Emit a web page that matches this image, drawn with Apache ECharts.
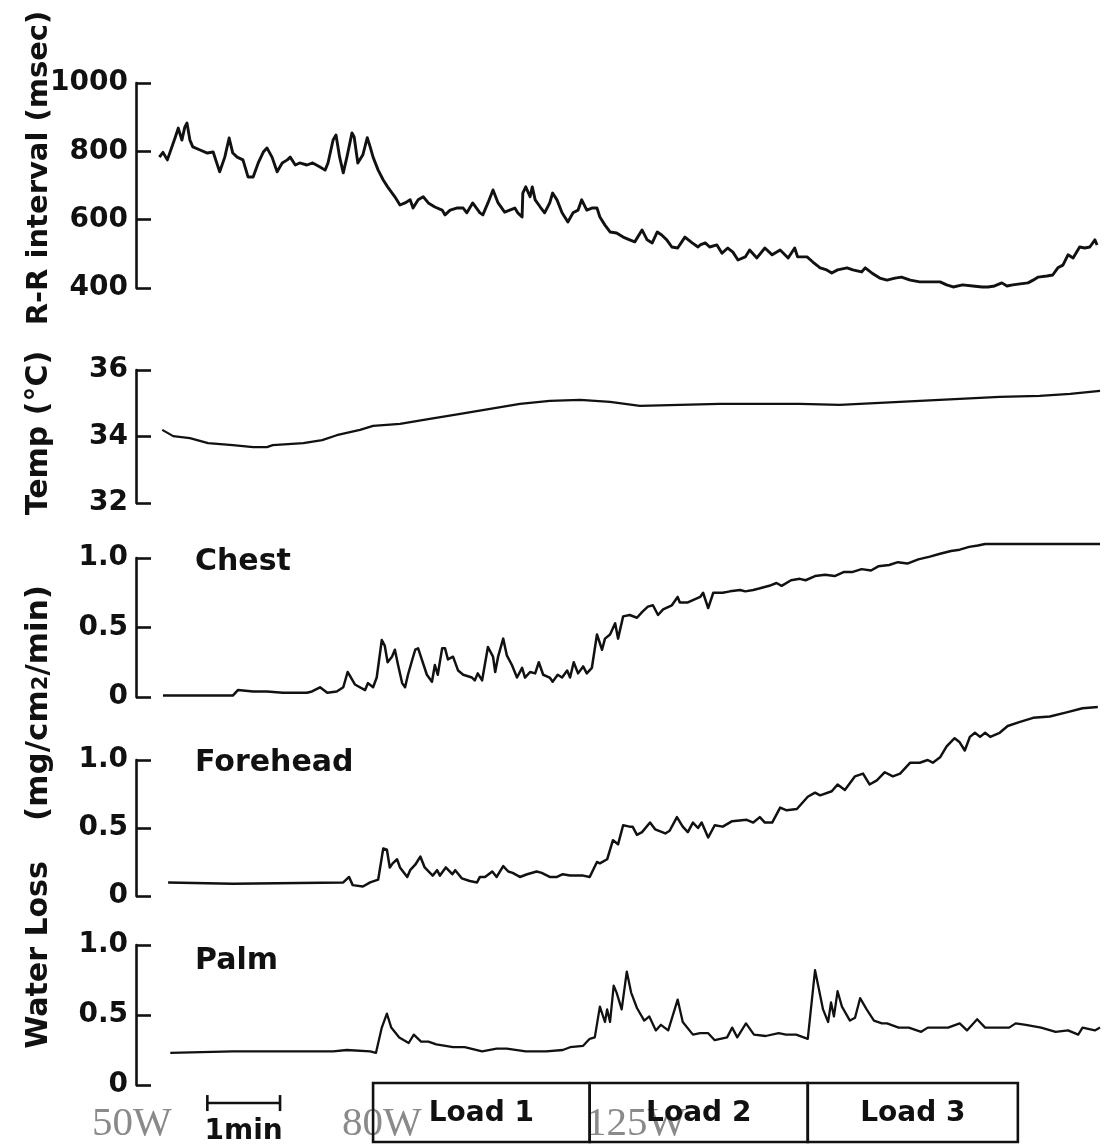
<!DOCTYPE html>
<html><head><meta charset="utf-8">
<script src="https://cdn.jsdelivr.net/npm/echarts/dist/echarts.min.js"></script>
<style>html,body{margin:0;padding:0;background:#fff;}#c{width:1107px;height:1147px;}</style>
</head><body><div id="c"></div>
<script>
// time in minutes from start of recording
const rrInterval = [[0.06,783],[0.11,797],[0.17,775],[0.28,842],[0.32,868],[0.37,833],[0.41,871],[0.44,883],[0.48,833],[0.52,813],[0.62,804],[0.72,795],[0.80,798],[0.89,740],[0.96,783],[1.02,839],[1.07,795],[1.13,783],[1.21,775],[1.28,725],[1.35,725],[1.42,766],[1.49,798],[1.54,810],[1.61,783],[1.68,740],[1.75,766],[1.82,775],[1.86,783],[1.93,760],[1.99,766],[2.09,760],[2.17,766],[2.27,754],[2.34,745],[2.38,766],[2.45,833],[2.49,848],[2.54,783],[2.59,737],[2.64,783],[2.71,854],[2.74,842],[2.79,766],[2.86,790],[2.92,840],[2.96,813],[3.00,783],[3.07,745],[3.14,716],[3.20,696],[3.30,667],[3.37,643],[3.44,649],[3.51,658],[3.55,634],[3.62,658],[3.69,667],[3.76,649],[3.85,637],[3.95,628],[3.99,614],[4.06,628],[4.15,634],[4.24,634],[4.29,620],[4.37,649],[4.47,620],[4.51,614],[4.58,649],[4.65,687],[4.72,649],[4.81,622],[4.88,628],[4.95,634],[4.99,620],[5.05,608],[5.06,678],[5.10,696],[5.16,667],[5.19,696],[5.23,658],[5.30,637],[5.36,620],[5.43,649],[5.47,678],[5.53,658],[5.60,620],[5.68,593],[5.75,620],[5.82,628],[5.87,658],[5.94,628],[6.01,634],[6.08,634],[6.12,608],[6.19,584],[6.26,564],[6.35,561],[6.44,549],[6.53,541],[6.60,535],[6.70,570],[6.77,541],[6.84,532],[6.91,564],[6.97,555],[7.04,541],[7.11,520],[7.19,517],[7.29,549],[7.39,532],[7.47,520],[7.50,526],[7.57,532],[7.63,520],[7.73,526],[7.80,502],[7.88,517],[7.95,505],[8.02,482],[8.12,491],[8.18,511],[8.28,488],[8.39,517],[8.49,497],[8.60,511],[8.71,488],[8.80,517],[8.84,491],[8.97,491],[9.05,476],[9.15,459],[9.24,453],[9.31,444],[9.39,453],[9.52,459],[9.60,453],[9.72,447],[9.77,459],[9.86,444],[9.97,429],[10.07,423],[10.18,429],[10.27,432],[10.39,423],[10.52,418],[10.66,418],[10.80,418],[10.89,409],[10.98,403],[11.11,409],[11.25,406],[11.38,403],[11.46,403],[11.55,406],[11.65,415],[11.72,406],[11.80,409],[11.90,412],[12.01,415],[12.08,423],[12.15,432],[12.27,435],[12.35,438],[12.42,459],[12.49,467],[12.56,497],[12.63,488],[12.72,520],[12.79,517],[12.86,520],[12.93,541],[12.96,526]];

const skinTemp = [[0.10,34.20],[0.25,34.01],[0.48,33.95],[0.73,33.80],[1.07,33.74],[1.35,33.68],[1.54,33.68],[1.62,33.74],[2.04,33.80],[2.30,33.89],[2.50,34.04],[2.82,34.20],[3.00,34.32],[3.37,34.38],[3.78,34.53],[4.20,34.68],[4.61,34.83],[5.02,34.98],[5.43,35.07],[5.85,35.10],[6.26,35.04],[6.67,34.92],[7.22,34.95],[7.77,34.98],[8.32,34.98],[8.87,34.98],[9.42,34.95],[9.97,35.01],[10.52,35.07],[11.07,35.13],[11.62,35.19],[12.17,35.22],[12.59,35.28],[13.00,35.37]];

const chestLoss = [[0.11,0.01],[1.07,0.01],[1.14,0.05],[1.35,0.04],[1.54,0.04],[1.76,0.03],[2.09,0.03],[2.16,0.04],[2.27,0.07],[2.37,0.03],[2.50,0.04],[2.59,0.07],[2.65,0.18],[2.75,0.09],[2.89,0.05],[2.93,0.10],[3.00,0.07],[3.05,0.14],[3.12,0.41],[3.16,0.37],[3.20,0.25],[3.26,0.29],[3.30,0.34],[3.34,0.24],[3.40,0.10],[3.44,0.07],[3.48,0.16],[3.54,0.27],[3.58,0.34],[3.62,0.35],[3.67,0.27],[3.74,0.16],[3.81,0.11],[3.85,0.23],[3.89,0.16],[3.95,0.35],[3.99,0.35],[4.03,0.27],[4.10,0.29],[4.17,0.19],[4.24,0.16],[4.36,0.14],[4.40,0.12],[4.44,0.17],[4.50,0.12],[4.58,0.36],[4.65,0.29],[4.68,0.18],[4.72,0.29],[4.79,0.42],[4.84,0.30],[4.91,0.23],[4.98,0.14],[5.05,0.21],[5.09,0.14],[5.16,0.18],[5.23,0.17],[5.28,0.25],[5.34,0.16],[5.43,0.14],[5.47,0.11],[5.54,0.16],[5.60,0.14],[5.67,0.19],[5.71,0.14],[5.76,0.25],[5.82,0.17],[5.89,0.22],[5.94,0.17],[6.01,0.21],[6.08,0.45],[6.15,0.34],[6.19,0.42],[6.26,0.45],[6.33,0.53],[6.37,0.42],[6.44,0.58],[6.53,0.59],[6.63,0.57],[6.70,0.61],[6.78,0.65],[6.85,0.66],[6.92,0.59],[6.99,0.63],[7.11,0.66],[7.19,0.72],[7.22,0.68],[7.33,0.68],[7.50,0.72],[7.54,0.75],[7.61,0.64],[7.68,0.75],[7.81,0.75],[7.91,0.76],[8.05,0.77],[8.12,0.76],[8.23,0.77],[8.31,0.78],[8.45,0.80],[8.55,0.82],[8.62,0.80],[8.75,0.84],[8.87,0.85],[8.95,0.84],[9.08,0.87],[9.22,0.88],[9.35,0.87],[9.48,0.90],[9.60,0.90],[9.72,0.92],[9.85,0.91],[9.95,0.94],[10.10,0.95],[10.22,0.97],[10.35,0.96],[10.50,0.99],[10.66,1.01],[10.80,1.03],[10.95,1.05],[11.07,1.06],[11.20,1.08],[11.32,1.09],[11.42,1.10],[11.62,1.10],[12.31,1.10],[13.00,1.10]];

const foreheadLoss = [[0.18,0.10],[1.07,0.09],[2.59,0.10],[2.67,0.14],[2.72,0.08],[2.86,0.07],[2.96,0.10],[3.07,0.12],[3.14,0.35],[3.19,0.34],[3.23,0.21],[3.27,0.24],[3.33,0.27],[3.37,0.21],[3.47,0.14],[3.51,0.19],[3.58,0.23],[3.65,0.29],[3.71,0.21],[3.82,0.15],[3.88,0.19],[3.92,0.15],[4.00,0.21],[4.09,0.16],[4.13,0.19],[4.22,0.13],[4.33,0.11],[4.43,0.10],[4.47,0.14],[4.54,0.14],[4.64,0.18],[4.70,0.14],[4.79,0.22],[4.86,0.18],[4.92,0.17],[5.02,0.14],[5.12,0.16],[5.25,0.18],[5.32,0.17],[5.43,0.14],[5.53,0.14],[5.61,0.16],[5.71,0.15],[5.89,0.15],[5.98,0.14],[6.08,0.25],[6.12,0.24],[6.22,0.27],[6.30,0.41],[6.37,0.38],[6.44,0.52],[6.53,0.51],[6.57,0.51],[6.63,0.45],[6.70,0.47],[6.81,0.54],[6.88,0.49],[7.02,0.46],[7.08,0.48],[7.18,0.58],[7.26,0.51],[7.33,0.47],[7.40,0.54],[7.47,0.50],[7.52,0.54],[7.61,0.43],[7.70,0.52],[7.81,0.51],[7.94,0.55],[8.14,0.56],[8.23,0.54],[8.32,0.58],[8.39,0.54],[8.49,0.54],[8.60,0.65],[8.69,0.63],[8.83,0.64],[8.98,0.73],[9.08,0.76],[9.15,0.74],[9.31,0.77],[9.39,0.82],[9.49,0.78],[9.63,0.88],[9.74,0.90],[9.83,0.82],[9.93,0.85],[10.04,0.91],[10.15,0.88],[10.25,0.90],[10.39,0.98],[10.52,0.98],[10.63,1.00],[10.70,0.98],[10.80,1.02],[10.89,1.10],[11.00,1.16],[11.07,1.13],[11.14,1.07],[11.21,1.17],[11.28,1.20],[11.35,1.17],[11.42,1.20],[11.49,1.17],[11.62,1.20],[11.73,1.25],[11.90,1.28],[12.08,1.31],[12.31,1.32],[12.54,1.35],[12.76,1.38],[12.97,1.39]];

const palmLoss = [[0.21,0.23],[1.07,0.24],[1.76,0.24],[2.45,0.24],[2.64,0.25],[2.96,0.24],[3.04,0.23],[3.12,0.41],[3.19,0.51],[3.25,0.41],[3.36,0.34],[3.49,0.30],[3.56,0.36],[3.66,0.31],[3.76,0.31],[3.87,0.29],[4.10,0.27],[4.26,0.27],[4.50,0.24],[4.70,0.26],[4.84,0.26],[5.10,0.24],[5.38,0.24],[5.61,0.25],[5.71,0.27],[5.89,0.28],[5.98,0.33],[6.05,0.34],[6.12,0.56],[6.19,0.45],[6.22,0.54],[6.26,0.45],[6.31,0.71],[6.35,0.66],[6.42,0.54],[6.49,0.81],[6.55,0.66],[6.63,0.55],[6.73,0.46],[6.80,0.49],[6.89,0.39],[6.96,0.43],[7.06,0.39],[7.19,0.61],[7.26,0.45],[7.40,0.36],[7.50,0.37],[7.61,0.37],[7.70,0.32],[7.87,0.34],[7.94,0.41],[8.01,0.34],[8.13,0.44],[8.24,0.36],[8.40,0.35],[8.58,0.37],[8.68,0.36],[8.82,0.36],[8.98,0.33],[9.08,0.82],[9.19,0.54],[9.26,0.45],[9.30,0.59],[9.34,0.49],[9.39,0.67],[9.45,0.56],[9.56,0.46],[9.63,0.48],[9.70,0.62],[9.79,0.54],[9.89,0.46],[10.00,0.44],[10.07,0.44],[10.23,0.41],[10.37,0.41],[10.54,0.38],[10.63,0.41],[10.91,0.41],[11.07,0.44],[11.17,0.39],[11.31,0.47],[11.42,0.41],[11.75,0.41],[11.84,0.44],[11.98,0.43],[12.19,0.41],[12.39,0.38],[12.56,0.39],[12.70,0.36],[12.76,0.41],[12.93,0.39],[13.00,0.41]];

const loadEdges = [3.0, 5.98, 8.98, 11.87];
const loadLabels = ['Load 1', 'Load 2', 'Load 3'];
const scaleBar = [0.72, 1.72];   // 1 min
const scaleBarLabel = '1min';
const siteLabels = ['Chest', 'Forehead', 'Palm'];
const powerLabels = ['50W', '80W', '125W'];
const rrTicks = [400, 1000, 200];
const tempTicks = [32, 36, 2];
const lossTicks = [0, 1.0, 0.5];

const INK = '#111';
const FONT = '"DejaVu Sans", sans-serif';
const BOLD = (s) => 'bold ' + s + 'px ' + FONT;

const boxes = [[83,205],[370,133],[558,139],[760,136],[945,140],[1083,59]];
const grid = boxes.map(([top,height]) => ({left:155, right:7, top, height}));
const xAxis = boxes.map((b,i) => ({gridIndex:i, type:'value', min:0, max:13, show:false}));

function yAx(i, t, fmt) {
  return {gridIndex:i, type:'value', min:t[0], max:t[1], interval:t[2], offset:19,
    axisLine:{show:true, onZero:false, lineStyle:{color:INK, width:2.6}},
    axisTick:{show:true, inside:true, length:15, lineStyle:{color:INK, width:2.6}},
    axisLabel:{color:INK, fontFamily:'DejaVu Sans', fontWeight:'bold', fontSize:28, margin:8, formatter:fmt},
    splitLine:{show:false}};
}
const plainFmt = v => String(v);
const lossFmt = v => v === 0 ? '0' : v.toFixed(1);
const yAxis = [
  yAx(0, rrTicks, plainFmt), yAx(1, tempTicks, plainFmt), yAx(2, lossTicks, lossFmt), yAx(3, lossTicks, lossFmt), yAx(4, lossTicks, lossFmt),
  {gridIndex:5, type:'value', min:0, max:1, show:false}
];

function trace(i, data, w) {
  return {type:'line', xAxisIndex:i, yAxisIndex:i, data, symbol:'none', clip:false,
    lineStyle:{color:INK, width:w, join:'round'}, animation:false};
}

const series = [
  trace(0, rrInterval, 2.9), trace(1, skinTemp, 2.2), trace(2, chestLoss, 2.5),
  trace(3, foreheadLoss, 2.5), trace(4, palmLoss, 2.3),
  {type:'custom', xAxisIndex:5, yAxisIndex:5, clip:false, animation:false,
   data: loadLabels.map((l,i) => [loadEdges[i], loadEdges[i+1]]),
   encode:{x:[0,1]},
   renderItem: (params, api) => {
     const p0 = api.coord([api.value(0), 1]);
     const p1 = api.coord([api.value(1), 0]);
     return {type:'group', children:[
       {type:'rect', shape:{x:p0[0], y:p0[1], width:p1[0]-p0[0], height:p1[1]-p0[1]},
        style:{fill:null, stroke:INK, lineWidth:2.6}},
       {type:'text', x:(p0[0]+p1[0])/2, y:(p0[1]+p1[1])/2 + 1,
        style:{text:loadLabels[params.dataIndex], font:BOLD(28), fill:INK, align:'center', verticalAlign:'middle'}}
     ]};
   }},
  {type:'custom', xAxisIndex:5, yAxisIndex:5, clip:false, animation:false,
   data: [[scaleBar[0], scaleBar[1], 0.66]],
   encode:{x:[0,1]},
   renderItem: (params, api) => {
     const a = api.coord([api.value(0), api.value(2)]);
     const b = api.coord([api.value(1), api.value(2)]);
     const ls = {stroke:INK, lineWidth:2.6};
     return {type:'group', children:[
       {type:'line', shape:{x1:a[0], y1:a[1], x2:b[0], y2:b[1]}, style:ls},
       {type:'line', shape:{x1:a[0], y1:a[1]-8, x2:a[0], y2:a[1]+8}, style:ls},
       {type:'line', shape:{x1:b[0], y1:b[1]-8, x2:b[0], y2:b[1]+8}, style:ls},
       {type:'text', x:(a[0]+b[0])/2, y:a[1]+29,
        style:{text:scaleBarLabel, font:BOLD(28), fill:INK, align:'center', verticalAlign:'middle'}}
     ]};
   }}
];

const graphic = [
  {type:'text', x:39, y:168, rotation:Math.PI/2,
   style:{text:'R-R interval (msec)', font:BOLD(29), fill:INK, align:'center', verticalAlign:'middle'}},
  {type:'text', x:39, y:433, rotation:Math.PI/2,
   style:{text:'Temp (°C)', font:BOLD(30), fill:INK, align:'center', verticalAlign:'middle'}},
  {type:'text', x:39, y:955, rotation:Math.PI/2,
   style:{text:'Water Loss', font:BOLD(30), fill:INK, align:'center', verticalAlign:'middle'}},
  {type:'text', x:39, y:703, rotation:Math.PI/2,
   style:{text:'{a|(mg/cm}{b|2}{a|/min)}', fill:INK, align:'center', verticalAlign:'middle',
     rich:{a:{font:BOLD(31), fill:INK}, b:{font:BOLD(21), fill:INK, padding:[6,0,0,0]}}}},
  {type:'text', x:195, y:562, style:{text:siteLabels[0], font:BOLD(30), fill:INK, verticalAlign:'middle'}},
  {type:'text', x:195, y:763, style:{text:siteLabels[1], font:BOLD(30), fill:INK, verticalAlign:'middle'}},
  {type:'text', x:195, y:961, style:{text:siteLabels[2], font:BOLD(30), fill:INK, verticalAlign:'middle'}},
  {type:'text', x:92, y:1145, style:{text:powerLabels[0], font:'41px "Liberation Serif", serif', fill:'#8a8a8a', verticalAlign:'bottom'}},
  {type:'text', x:342, y:1145, style:{text:powerLabels[1], font:'41px "Liberation Serif", serif', fill:'#8a8a8a', verticalAlign:'bottom'}},
  {type:'text', x:586, y:1145, style:{text:powerLabels[2], font:'41px "Liberation Serif", serif', fill:'#8a8a8a', verticalAlign:'bottom'}}
];

const chart = echarts.init(document.getElementById('c'), null, {renderer:'canvas'});
chart.setOption({animation:false, backgroundColor:'#fff', grid, xAxis, yAxis, series, graphic});
</script>
</body></html>
